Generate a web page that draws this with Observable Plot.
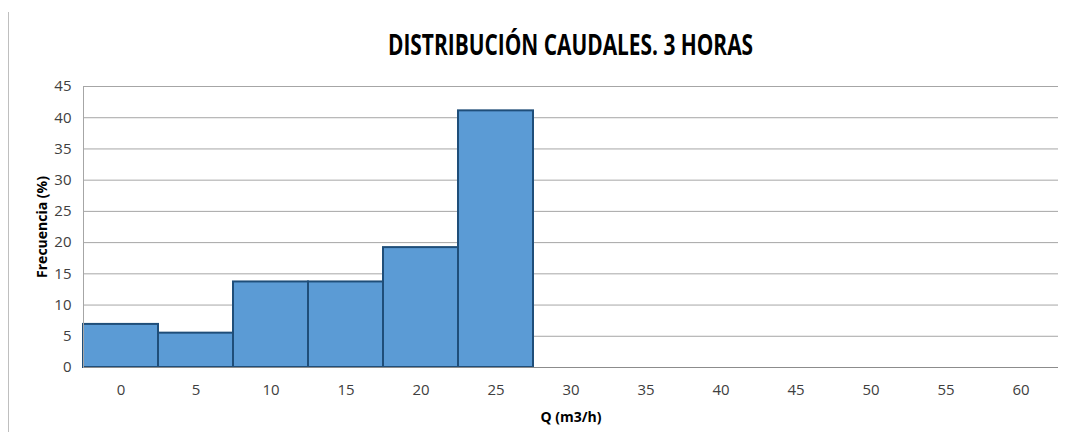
<!DOCTYPE html>
<html>
<head>
<meta charset="utf-8">
<script src="https://cdn.jsdelivr.net/npm/d3@7"></script>
<script src="https://cdn.jsdelivr.net/npm/@observablehq/plot@0.6"></script>
<style>
  body { margin: 0; background: #fff; }
  #wrap { position: relative; width: 1068px; height: 437px; overflow: hidden; }
  #border { position: absolute; left: 8px; top: 12px; width: 1px; height: 420px; background: #bfbfbf; }
  #title { margin-left: 83px; width: 975px; height: 70px; box-sizing: border-box; padding-top: 28px;
    text-align: center; }
  #title span { display: inline-block; transform: scaleX(0.72); transform-origin: center;
    font: bold 29px/32px "Open Sans", sans-serif; color: #000; white-space: nowrap; }
  svg { display: block; }
</style>
</head>
<body>
<div id="wrap">
  <div id="border"></div>
  <div id="title"><span>DISTRIBUCIÓN CAUDALES. 3 HORAS</span></div>
  <div id="chart"></div>
</div>
<script>
const categories = ["0","5","10","15","20","25","30","35","40","45","50","55","60"];
const barCategories = ["0","5","10","15","20","25"];
const frequencies = [6.9, 5.5, 13.7, 13.7, 19.2, 41.1];
const yTicks = [0,5,10,15,20,25,30,35,40,45];
const yLabel = "Frecuencia (%)";
const xLabel = "Q (m3/h)";

const data = barCategories.map((c, i) => ({q: c, f: frequencies[i]}));

const chart = Plot.plot({
  width: 1068,
  height: 367,
  marginTop: 16,
  marginBottom: 70,
  marginLeft: 83,
  marginRight: 10,
  style: {fontFamily: "'Open Sans', sans-serif", fontSize: "15px", color: "#404040", background: "#fff"},
  x: {type: "band", domain: categories, padding: 0, label: null},
  y: {domain: [0, 45], ticks: yTicks, label: null},
  marks: [
    Plot.gridY(yTicks, {stroke: "#a6a6a6", strokeOpacity: 1, strokeWidth: 1}),
    Plot.axisY({ticks: yTicks, tickSize: 0, tickPadding: 12, fontSize: 15, fill: "#404040"}),
    Plot.axisX({tickSize: 0, tickPadding: 17, fontSize: 15, fill: "#404040"}),
    Plot.barY(data, {x: "q", y: "f", fill: "#5b9bd5", stroke: "#1f4e79", strokeWidth: 2, inset: 0}),
    Plot.ruleY([0], {stroke: "#8c8c8c", strokeWidth: 1}),
    Plot.frame({anchor: "left", stroke: "#a6a6a6"}),
    Plot.text([xLabel], {frameAnchor: "bottom", dy: 50, lineAnchor: "middle", fontWeight: "bold", fontSize: 14, fill: "#000"}),
    Plot.text([yLabel], {frameAnchor: "left", dx: -41, rotate: -90, textAnchor: "middle", fontWeight: "bold", fontSize: 14, fill: "#000"})
  ]
});
document.getElementById("chart").appendChild(chart);
</script>
</body>
</html>
